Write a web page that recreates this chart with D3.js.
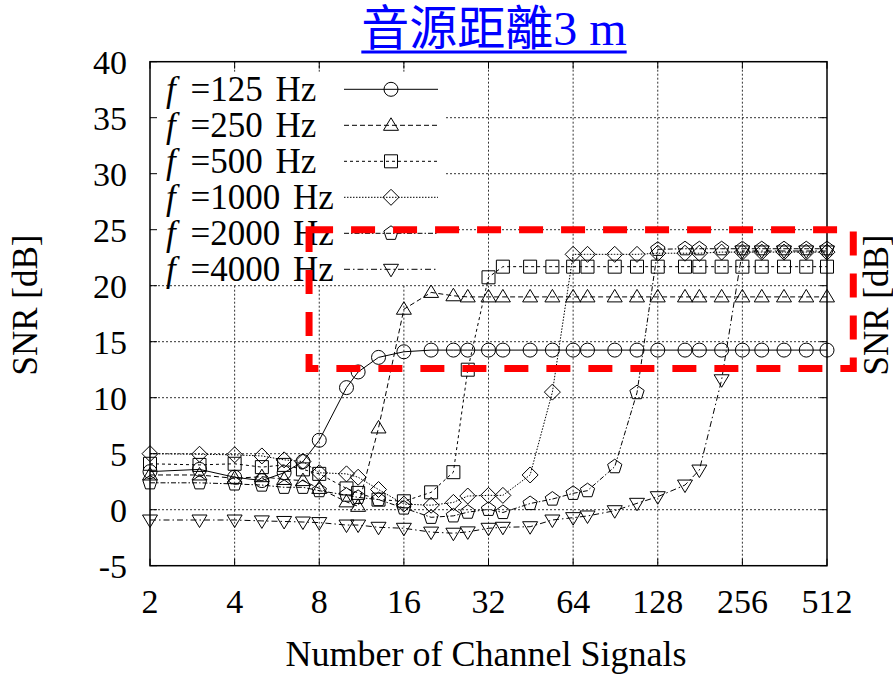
<!DOCTYPE html>
<html>
<head>
<meta charset="utf-8">
<script src="https://cdn.jsdelivr.net/npm/d3@7"></script>
<style>
  body { margin: 0; background: #fff; }
  svg { display: block; }
  text { font-family: "Liberation Serif", "Times New Roman", serif; fill: #000; }
</style>
</head>
<body>
<div id="chart"></div>
<script>
// channel counts, shared by every curve
var channels = [2, 3, 4, 5, 6, 7, 8, 10, 11, 13, 16, 20, 24, 27, 32, 36, 45, 54, 64, 72, 90, 108, 128, 160, 180, 216, 256, 300, 360, 432, 512];

// SNR [dB] per frequency
var snr125 = [3.4, 3.6, 2.9, 2.6, 3.3, 4.3, 6.2, 10.9, 12.3, 13.6, 14.1, 14.25, 14.25, 14.25, 14.25, 14.25, 14.25, 14.25, 14.25, 14.25, 14.25, 14.25, 14.25, 14.25, 14.25, 14.25, 14.25, 14.25, 14.25, 14.25, 14.25];
var snr250 = [3.1, 3.1, 2.8, 2.95, 2.7, 2.6, 1.9, 0.7, 0.3, 7.3, 17.9, 19.4, 19.1, 19.0, 19.0, 19.0, 19.0, 19.0, 19.0, 19.0, 19.0, 19.0, 19.0, 19.0, 19.0, 19.0, 19.0, 19.0, 19.0, 19.0, 19.0];
var snr500 = [4.1, 4.0, 4.1, 3.8, 4.0, 3.6, 3.2, 1.9, 1.5, 0.9, 0.75, 1.55, 3.35, 12.5, 20.75, 21.7, 21.7, 21.7, 21.7, 21.7, 21.7, 21.7, 21.7, 21.7, 21.7, 21.7, 21.7, 21.7, 21.7, 21.7, 21.7];
var snr1000 = [5.0, 4.95, 4.9, 4.8, 4.45, 4.3, 3.3, 3.2, 2.9, 1.8, 0.5, 0.4, 0.65, 1.22, 1.28, 1.28, 3.1, 10.5, 22.8, 22.8, 22.8, 22.8, 22.9, 22.9, 22.9, 23.0, 23.0, 23.0, 23.0, 23.0, 23.0];
var snr2000 = [2.4, 2.4, 2.3, 2.2, 2.0, 2.0, 1.7, 1.3, 1.1, 0.9, 0.15, -0.68, -0.55, -0.22, 0.03, -0.25, 0.55, 0.95, 1.46, 1.7, 3.84, 10.45, 23.25, 23.3, 23.3, 23.3, 23.3, 23.3, 23.3, 23.3, 23.3];
var snr4000 = [-0.92, -0.92, -0.92, -1.0, -1.05, -1.1, -1.15, -1.37, -1.37, -1.57, -1.66, -2.0, -2.1, -1.98, -1.66, -1.57, -1.52, -0.92, -0.71, -0.56, -0.09, 0.57, 1.16, 2.2, 3.54, 11.6, 23.1, 23.1, 23.1, 23.1, 23.1];

var freqs = ["125", "250", "500", "1000", "2000", "4000"];
var xTicks = [2, 4, 8, 16, 32, 64, 128, 256, 512];
var yTicks = [-5, 0, 5, 10, 15, 20, 25, 30, 35, 40];

// red highlight box (data coords)
var boxX = [7.36, 635];
var boxY = [12.6, 25];

var width = 893, height = 674;
var pLeft = 150, pRight = 827, pTop = 61.7, pBottom = 565.7;

var allSeries = [snr125, snr250, snr500, snr1000, snr2000, snr4000];
var markers = ["circle", "triangle", "square", "diamond", "pentagon", "invtriangle"];
var dashes = [null, "5,3", "3,3", "1.5,1.5", "5,2,1.5,2", "6,3,1.5,3"];

var x = d3.scaleLog().base(2).domain([2, 512]).range([pLeft, pRight]);
var y = d3.scaleLinear().domain([-5, 40]).range([pBottom, pTop]);

var svg = d3.select("#chart").append("svg")
  .attr("width", width)
  .attr("height", height);

// grid
svg.append("g").selectAll("line")
  .data(xTicks.slice(1, -1))
  .enter().append("line")
  .attr("x1", d => x(d)).attr("x2", d => x(d))
  .attr("y1", pTop).attr("y2", pBottom)
  .attr("stroke", "#333").attr("stroke-width", 1).attr("stroke-dasharray", "2,2");
svg.append("g").selectAll("line")
  .data(yTicks.slice(1, -1))
  .enter().append("line")
  .attr("x1", pLeft).attr("x2", pRight)
  .attr("y1", d => y(d)).attr("y2", d => y(d))
  .attr("stroke", "#333").attr("stroke-width", 1).attr("stroke-dasharray", "2,2");

function markerPath(type) {
  var p = d3.path();
  if (type == "circle") {
    p.moveTo(7, 0); p.arc(0, 0, 7, 0, 2 * Math.PI);
  } else if (type == "square") {
    p.rect(-6.5, -6.5, 13, 13);
  } else if (type == "triangle") {
    p.moveTo(0, -7.5); p.lineTo(7.5, 5); p.lineTo(-7.5, 5); p.closePath();
  } else if (type == "invtriangle") {
    p.moveTo(0, 7.5); p.lineTo(7.5, -5); p.lineTo(-7.5, -5); p.closePath();
  } else if (type == "diamond") {
    p.moveTo(0, -8); p.lineTo(8, 0); p.lineTo(0, 8); p.lineTo(-8, 0); p.closePath();
  } else if (type == "pentagon") {
    for (var k = 0; k < 5; k++) {
      var a = -Math.PI / 2 + k * 2 * Math.PI / 5;
      if (k == 0) p.moveTo(7.5 * Math.cos(a), 7.5 * Math.sin(a));
      else p.lineTo(7.5 * Math.cos(a), 7.5 * Math.sin(a));
    }
    p.closePath();
  }
  return p.toString();
}

var line = d3.line()
  .x(d => x(d[0]))
  .y(d => y(d[1]));

var plot = svg.append("g");
allSeries.forEach(function (vals, i) {
  var pts = channels.map((c, j) => [c, vals[j]]);
  plot.append("path")
    .datum(pts)
    .attr("d", line)
    .attr("fill", "none")
    .attr("stroke", "#000")
    .attr("stroke-width", 1)
    .attr("stroke-dasharray", dashes[i]);
  plot.append("g").selectAll("path")
    .data(pts)
    .enter().append("path")
    .attr("d", markerPath(markers[i]))
    .attr("transform", d => "translate(" + x(d[0]) + "," + y(d[1]) + ")")
    .attr("fill", "none")
    .attr("stroke", "#000")
    .attr("stroke-width", 1);
});

// legend (white background hides the grid)
svg.append("rect")
  .attr("x", pLeft + 1).attr("y", 72)
  .attr("width", 294).attr("height", 213)
  .attr("fill", "#fff");

var legend = svg.append("g");
freqs.forEach(function (f, i) {
  var ly = 89.3 + i * 36;
  var t = legend.append("text")
    .attr("x", 166).attr("y", ly + 12)
    .style("font-size", "35px");
  t.append("tspan").style("font-style", "italic").text("f");
  t.append("tspan").attr("dx", 6).text(" =" + f);
  t.append("tspan").attr("dx", 4).text(" Hz");
  legend.append("line")
    .attr("x1", 344).attr("x2", 438)
    .attr("y1", ly).attr("y2", ly)
    .attr("stroke", "#000").attr("stroke-width", 1)
    .attr("stroke-dasharray", dashes[i]);
  legend.append("path")
    .attr("d", markerPath(markers[i]))
    .attr("transform", "translate(391," + ly + ")")
    .attr("fill", "none").attr("stroke", "#000");
});

// frame + inward ticks
svg.append("rect")
  .attr("x", pLeft).attr("y", pTop)
  .attr("width", pRight - pLeft).attr("height", pBottom - pTop)
  .attr("fill", "none").attr("stroke", "#000").attr("stroke-width", 1.5);

var ticks = svg.append("g").attr("stroke", "#000").attr("stroke-width", 1);
yTicks.forEach(function (v) {
  ticks.append("line").attr("x1", pLeft).attr("x2", pLeft + 7).attr("y1", y(v)).attr("y2", y(v));
  ticks.append("line").attr("x1", pRight - 7).attr("x2", pRight).attr("y1", y(v)).attr("y2", y(v));
});
xTicks.forEach(function (v) {
  ticks.append("line").attr("x1", x(v)).attr("x2", x(v)).attr("y1", pBottom).attr("y2", pBottom - 7);
  ticks.append("line").attr("x1", x(v)).attr("x2", x(v)).attr("y1", pTop).attr("y2", pTop + 7);
});

// tick labels
svg.append("g").selectAll("text")
  .data(yTicks)
  .enter().append("text")
  .attr("x", 127).attr("y", d => y(d))
  .attr("dy", "0.35em")
  .attr("text-anchor", "end")
  .style("font-size", "34px")
  .text(d => d);
svg.append("g").selectAll("text")
  .data(xTicks)
  .enter().append("text")
  .attr("x", d => x(d)).attr("y", 613)
  .attr("text-anchor", "middle")
  .style("font-size", "34px")
  .text(d => d);

// axis labels
svg.append("text")
  .attr("x", 486).attr("y", 666)
  .attr("text-anchor", "middle")
  .style("font-size", "36px")
  .text("Number of Channel Signals");
svg.append("text")
  .attr("transform", "translate(37,305) rotate(-90)")
  .attr("text-anchor", "middle")
  .style("font-size", "35px")
  .text("SNR [dB]");
svg.append("text")
  .attr("transform", "translate(888,305) rotate(-90)")
  .attr("text-anchor", "middle")
  .style("font-size", "35px")
  .text("SNR [dB]");

// red highlight
svg.append("rect")
  .attr("x", x(boxX[0])).attr("y", y(boxY[1]))
  .attr("width", x(boxX[1]) - x(boxX[0]))
  .attr("height", y(boxY[0]) - y(boxY[1]))
  .attr("fill", "none")
  .attr("stroke", "#ff0000")
  .attr("stroke-width", 7)
  .attr("stroke-dasharray", "24,18");

// title
var title = svg.append("text")
  .attr("x", 494).attr("y", 45)
  .attr("text-anchor", "middle")
  .style("font-size", "48px")
  .style("fill", "#0000ff");
title.append("tspan").style("font-family", "'Noto Sans CJK TC'").style("fill", "#0000ff").text("音源距離");
title.append("tspan").style("fill", "#0000ff").text("3 m");
var bb = title.node().getBBox();
svg.append("line")
  .attr("x1", bb.x).attr("x2", bb.x + bb.width)
  .attr("y1", 52).attr("y2", 52)
  .attr("stroke", "#0000ff").attr("stroke-width", 3);
</script>
</body>
</html>
